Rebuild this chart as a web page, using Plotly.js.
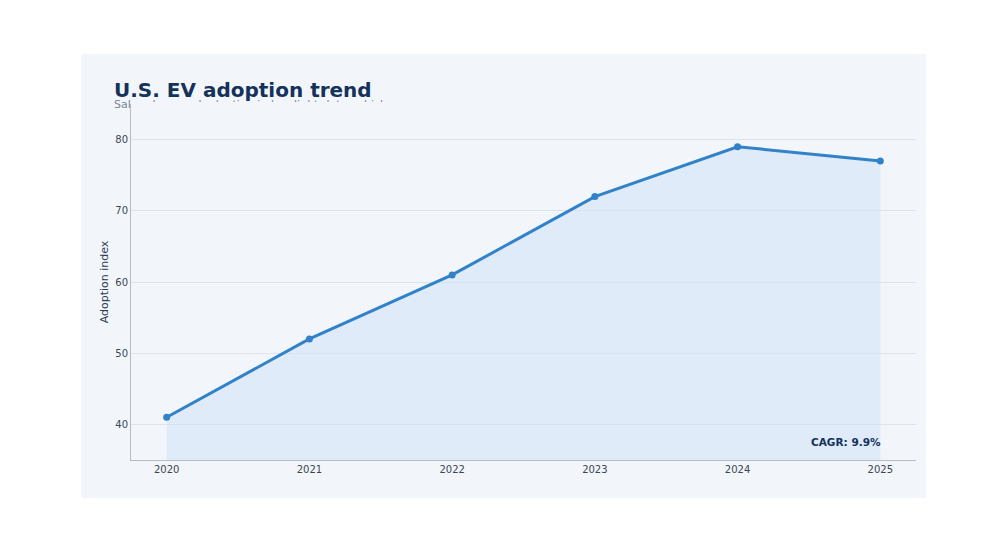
<!DOCTYPE html>
<html>
<head>
<meta charset="utf-8">
<script src="https://cdn.plot.ly/plotly-3.0.1.min.js"></script>
<style>
    html, body { margin: 0; padding: 0; background: #ffffff; }
    #chart { position: absolute; left: 81px; top: 54px; width: 845px; height: 444px; }
</style>
</head>
<body>
<div id="chart"></div>
<script>
'use strict';

// Data
var years = [2020, 2021, 2022, 2023, 2024, 2025];
var adoption = [41, 52, 61, 72, 79, 77];
var yTicks = [40, 50, 60, 70, 80];

var titleText = 'U.S. EV adoption trend';
var subtitleText = 'Sales share and adoption index, light-duty vehicles';
var cagrText = 'CAGR: 9.9%';

var W = 845, H = 444;
// plot box inside the card, in px
var box = { l: 50, r: 835, t: 50, b: 406 };
// the subtitle is hidden under the plot from this height down (px from card top)
var coverTop = 48;

var FONT = 'DejaVu Sans, Verdana, sans-serif';
var NAVY = '#14325a';

function draw(node) {

    var xDom = [box.l / W, box.r / W];
    var yDom = [1 - box.b / H, 1 - box.t / H];

    // subtitle sits "under" the plot box, so it is drawn as clipped text
    // in two helper subplots: one above the box, one left of it
    var subX = 33, subY = H - 51;

    function subtitleTrace(xa, ya) {
        return {
            type: 'scatter',
            x: [subX],
            y: [subY],
            xaxis: xa,
            yaxis: ya,
            mode: 'text',
            text: [subtitleText],
            textposition: 'middle right',
            textfont: { family: FONT, size: 11, color: '#7b8594' },
            cliponaxis: true,
            hoverinfo: 'skip',
            showlegend: false
        };
    }

    var traces = [{
            type: 'scatter',
            x: years,
            y: adoption,
            mode: 'lines+markers',
            fill: 'tozeroy',
            fillcolor: 'rgba(210,228,246,0.6)',
            line: { color: '#3182c8', width: 3 },
            marker: { color: '#3182c8', size: 7 },
            hoverinfo: 'x+y',
            showlegend: false
        },
        subtitleTrace('x2', 'y2'),
        subtitleTrace('x3', 'y3')
    ];

    var hidden = { visible: false, fixedrange: true };

    Plotly.newPlot(node, traces, {
        width: W,
        height: H,
        paper_bgcolor: '#f2f6fb',
        plot_bgcolor: 'rgba(0,0,0,0)',
        margin: { l: 0, r: 0, t: 0, b: 0 },
        font: { family: FONT, color: '#3a4654' },
        title: {
            text: '<b>' + titleText + '</b>',
            font: { family: FONT, size: 20, color: NAVY },
            x: 33 / W,
            xref: 'container',
            xanchor: 'left',
            y: 1 - 29 / H,
            yref: 'container',
            yanchor: 'top'
        },
        xaxis: {
            domain: xDom,
            range: [2019.75, 2025.25],
            tickvals: years,
            ticktext: years.map(String),
            tickfont: { size: 10, color: '#3a4654' },
            showgrid: false,
            zeroline: false,
            showline: true,
            linecolor: '#b4bcc6',
            linewidth: 1,
            ticks: '',
            fixedrange: true
        },
        yaxis: {
            domain: yDom,
            range: [35, 85],
            tickvals: yTicks,
            tickfont: { size: 10, color: '#3a4654' },
            showgrid: true,
            gridcolor: '#dde3ea',
            zeroline: false,
            showline: true,
            linecolor: '#b4bcc6',
            linewidth: 1,
            ticks: '',
            title: { text: 'Adoption index', font: { size: 11, color: '#2a3a4f' }, standoff: 4 },
            fixedrange: true
        },
        xaxis2: Object.assign({ domain: [xDom[0], 1], range: [box.l, W], anchor: 'y2' }, hidden),
        yaxis2: Object.assign({ domain: [1 - coverTop / H, 1], range: [H - coverTop, H], anchor: 'x2' }, hidden),
        xaxis3: Object.assign({ domain: [0, xDom[0]], range: [0, box.l], anchor: 'y3' }, hidden),
        yaxis3: Object.assign({ domain: [0, 1], range: [0, H], anchor: 'x3' }, hidden),
        annotations: [{
            text: '<b>' + cagrText + '</b>',
            x: years[years.length - 1],
            xref: 'x',
            xanchor: 'right',
            xshift: 3,
            y: 0.05,
            yref: 'y domain',
            yanchor: 'middle',
            showarrow: false,
            font: { family: FONT, size: 10.5, color: NAVY }
        }]
    }, { displayModeBar: false, staticPlot: true });
}

draw(document.getElementById('chart'));
</script>
</body>
</html>
